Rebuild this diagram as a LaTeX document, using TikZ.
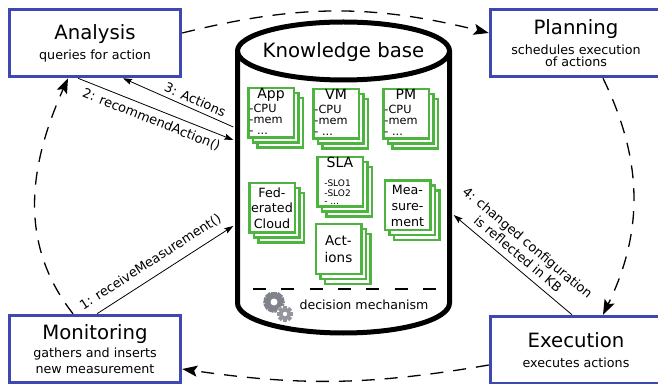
\documentclass[tikz,border=0pt]{standalone}
\usepackage{fontspec}
\setmainfont{DejaVu Sans}
\usetikzlibrary{arrows.meta, shadows}
\definecolor{mapeblue}{RGB}{62,72,176}
\definecolor{kbgreen}{RGB}{78,180,64}
\definecolor{gearcol}{RGB}{128,132,138}
\newcommand{\titlefont}{\fontsize{19.7}{23}\selectfont}
\newcommand{\subfont}{\fontsize{12.7}{14.5}\selectfont}
\newcommand{\cardfont}{\fontsize{14}{12}\selectfont}
\newcommand{\listfont}{\fontsize{11.3}{11}\selectfont}
\newcommand{\slofont}{\fontsize{9}{8}\selectfont}
\newcommand{\msgfont}{\fontsize{13}{15}\selectfont}
\newcommand{\itemlist}[2][10pt]{\begin{tabular}[t]{@{}l@{\hspace{#1}}}#2\end{tabular}}

\tikzset{
  mape/.style={draw=mapeblue, line width=3.5pt, fill=white, minimum width=171pt,
    minimum height=67pt, inner sep=0pt, align=center, font=\subfont},
  card/.style={draw=kbgreen, line width=2.5pt, fill=white, minimum width=45.5pt,
    minimum height=49.5pt, inner sep=0pt, align=center,
    copy shadow={shadow xshift=9pt, shadow yshift=-10pt},
    copy shadow={shadow xshift=4.5pt, shadow yshift=-5pt}},
  msg/.style={-{Stealth[length=9pt, width=6pt, inset=1.5pt]}, line width=0.8pt, font=\msgfont},
  loopline/.style={dash pattern=on 13pt off 10pt, line width=1.3pt,
    -{Stealth[length=15pt, width=11pt, inset=3pt]}},
}

\begin{document}
\begin{tikzpicture}[x=1pt, y=1pt]
    \useasboundingbox (0,0) rectangle (658,383);

    % knowledge base cylinder
    \draw[line width=5pt, line join=round] (237.5,332) -- (237.5,80)
        arc[start angle=180, end angle=360, x radius=106, y radius=30] -- (449.5,332);
    \draw[line width=5pt] (343.5,332) ellipse[x radius=106, y radius=29];
    \node(kb) [minimum width=220pt, minimum height=311pt, inner sep=0pt] at (343.5,205.5) {};
    \node(kbname) [font=\titlefont] at (343.5,331) {Knowledge base};

    % MAPE boxes
    \node(an) [mape] at (95,340) {{\titlefont Analysis}\\[5.5pt] queries for action};
    \node(pl) [mape] at (576,340) {{\titlefont Planning}\\[6pt] schedules execution\\[-2.8pt] of actions};
    \node(ex) [mape] at (576,33) {{\titlefont Execution}\\[6.2pt] executes actions};
    \node(mo) [mape] at (95,34) {{\titlefont Monitoring}\\[3.8pt] gathers and inserts\\[1.8pt] new measurement};

    % entities in the knowledge base
    \node(app) [card] at (271,270) {{\cardfont App}\\[1.5pt] {\listfont\itemlist{-CPU\\-mem\\- ...}}};
    \node(vm) [card] at (336,269) {{\cardfont VM}\\[1.5pt] {\listfont\itemlist{-CPU\\-mem\\- ...}}};
    \node(pm) [card] at (406,269) {{\cardfont PM}\\[1.5pt] {\listfont\itemlist{-CPU\\-mem\\- ...}}};
    \node(sla) [card] at (340,201) {{\cardfont SLA}\\[7pt] {\slofont\itemlist[5pt]{-SLO1\\-SLO2\\- ...}}};
    \node(fed) [card, font=\fontsize{12.7}{15.5}\selectfont] at (272,175) {Fed-\\erated\\Cloud};
    \node(mea) [card, font=\fontsize{12.7}{16}\selectfont] at (407.5,177.5) {Mea-\\sure-\\ment};
    \node(act) [card, font=\fontsize{13.5}{17}\selectfont] at (338.5,134) {Act-\\ions};

    % decision mechanism
    \draw[line width=1.5pt, dash pattern=on 13pt off 15.3pt] (253,94) -- (437,94);
    \foreach \a in {0,40,...,320}
        \fill[gearcol, rotate around={\a:(274,81)}] (271,87) rectangle (277,91.5);
    \fill[gearcol] (274,81) circle (8.5);
    \fill[white] (274,81) circle (3.5);
    \fill[white] (285,69) circle (8.5);
    \foreach \a in {0,45,...,315}
        \fill[gearcol!85, rotate around={\a:(285,69)}] (283,73.5) rectangle (287,77);
    \fill[gearcol!85] (285,69) circle (5.8);
    \fill[white] (285,69) circle (2.2);
    \node(dm) [anchor=west, font=\fontsize{12.6}{14}\selectfont] at (296,78) {decision mechanism};

    % messages
    \draw[msg] ([xshift=2pt]mo.north) -- ([yshift=-48.5pt]kb.west)
        node[pos=0.45, sloped, above=5pt] {1: receiveMeasurement()};
    \draw[msg] ([xshift=-17pt]an.south) -- ([yshift=37.5pt]kb.west)
        node[midway, sloped, below=2pt] {2: recommendAction()};
    \draw[msg] ([yshift=50.5pt]kb.west) -- ([xshift=28pt]an.south)
        node[pos=0.38, sloped, above=1pt] {3: Actions};
    \draw[msg] ([xshift=-4pt]ex.north) -- ([yshift=-37.5pt]kb.east)
        node[pos=0.52, sloped, above=3pt, align=center] {4: changed configuration\\is reflected in KB};

    % MAPE loop
    \draw[loopline] ([yshift=10pt]an.east) to[bend left=14] ([yshift=10pt]pl.west);
    \draw[loopline] ([xshift=27pt]pl.south) to[bend left=26] ([xshift=27pt]ex.north);
    \draw[loopline] ([yshift=-15pt]ex.west) to[bend left=9] ([yshift=-20pt]mo.east);
    \draw[loopline] ([xshift=-22pt]mo.north) to[out=128, in=246] ([xshift=-27pt]an.south);
\end{tikzpicture}
\end{document}
